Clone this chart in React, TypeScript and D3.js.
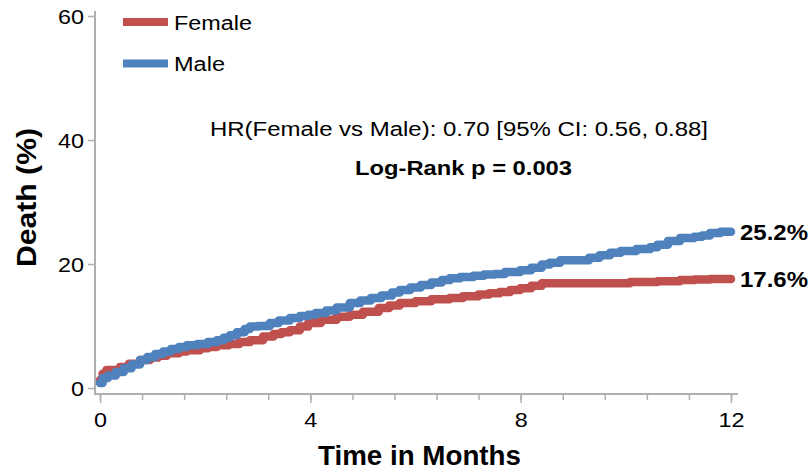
import React, { useEffect, useRef } from "react";
import * as d3 from "d3";

// Kaplan–Meier cumulative incidence of death (%) by sex, step curves
const maleTimes = [0, 0.05, 0.15, 0.3, 0.45, 0.6, 0.76, 0.9, 1.05, 1.2, 1.35, 1.5, 1.65, 1.85, 2.05, 2.22, 2.35, 2.47, 2.6, 2.75, 2.85, 3.0, 3.23, 3.4, 3.61, 3.8, 3.96, 4.1, 4.3, 4.5, 4.75, 4.95, 5.15, 5.35, 5.55, 5.7, 5.9, 6.1, 6.3, 6.5, 6.65, 6.85, 7.1, 7.3, 7.5, 7.7, 7.99, 8.2, 8.4, 8.55, 8.75, 9.3, 9.5, 9.7, 9.9, 10.2, 10.46, 10.6, 10.8, 11.03, 11.3, 11.45, 11.6, 11.8, 12.0];
const maleDeath = [0.8, 1.6, 2.0, 2.6, 3.2, 3.8, 4.5, 5.0, 5.5, 5.9, 6.3, 6.6, 6.9, 7.1, 7.4, 7.7, 8.1, 8.5, 9.0, 9.5, 9.9, 10.0, 10.5, 10.9, 11.3, 11.6, 11.8, 12.1, 12.5, 13.0, 13.7, 14.1, 14.5, 14.9, 15.4, 15.8, 16.2, 16.6, 17.0, 17.4, 17.7, 17.9, 18.1, 18.3, 18.4, 18.7, 19.0, 19.4, 19.9, 20.2, 20.6, 21.0, 21.4, 21.8, 22.1, 22.4, 22.7, 23.1, 23.7, 24.2, 24.4, 24.6, 25.0, 25.2, 25.2];

const femaleTimes = [0, 0.05, 0.12, 0.38, 0.55, 0.76, 0.95, 1.1, 1.27, 1.5, 1.65, 1.9, 2.05, 2.22, 2.45, 2.65, 2.85, 3.1, 3.3, 3.45, 3.61, 3.8, 3.96, 4.2, 4.5, 4.75, 5.0, 5.3, 5.5, 5.7, 6.0, 6.3, 6.65, 6.9, 7.2, 7.4, 7.6, 7.8, 7.99, 8.2, 8.4, 9.0, 9.5, 10.08, 10.6, 11.03, 11.3, 11.6, 12.0];
const femaleDeath = [1.3, 2.3, 2.9, 3.4, 3.9, 4.5, 4.9, 5.2, 5.6, 5.9, 6.1, 6.4, 6.6, 6.9, 7.1, 7.4, 7.7, 8.3, 8.7, 9.0, 9.3, 9.9, 10.5, 11.0, 11.5, 11.8, 12.3, 12.9, 13.3, 13.7, 14.0, 14.3, 14.5, 14.8, 15.1, 15.3, 15.5, 15.8, 16.1, 16.5, 16.9, 16.9, 16.9, 17.1, 17.2, 17.4, 17.5, 17.6, 17.6];

const seriesNames = ["Female", "Male"];
const seriesColors = ["#C0504D", "#4F81BD"];
const finalLabels = ["17.6%", "25.2%"];
const finalValues = [17.6, 25.2];

const xMajorTicks = [0, 4, 8, 12];
const xMinorTicks = [0, 0.8, 1.6, 2.4, 3.2, 4, 4.8, 5.6, 6.4, 7.2, 8, 8.8, 9.6, 10.4, 11.2, 12];
const yTicks = [0, 20, 40, 60];

const hrText = "HR(Female vs Male): 0.70 [95% CI: 0.56, 0.88]";
const pText = "Log-Rank p = 0.003";
const xTitle = "Time in Months";
const yTitle = "Death (%)";

const W = 811;
const H = 470;
const FONT = "'Liberation Sans', Arial, Helvetica, sans-serif";
const AXIS = "#AFAFAF";
const DIGIT_W = 13;

export default function App() {
  const axRef = useRef<SVGGElement | null>(null);

  const x = d3.scaleLinear().domain([0, 12]).range([100, 731]);
  const y = d3.scaleLinear().domain([0, 60]).range([388, 16]);

  const line = d3
    .line<[number, number]>()
    .x((d) => x(d[0]))
    .y((d) => y(d[1]))
    .curve(d3.curveStepAfter);

  const female: [number, number][] = femaleTimes.map((t, i) => [t, femaleDeath[i]]);
  const male: [number, number][] = maleTimes.map((t, i) => [t, maleDeath[i]]);

  useEffect(() => {
    const g = d3.select(axRef.current);
    g.selectAll("*").remove();

    const styleLabels = (sel: any) =>
      sel
        .selectAll(".tick text")
        .attr("font-family", FONT)
        .attr("font-size", 21)
        .attr("fill", "#000")
        .attr("lengthAdjust", "spacingAndGlyphs")
        .attr("textLength", function (this: SVGTextElement) {
          return (this.textContent || "").length * DIGIT_W;
        });

    // y axis (offset left of the plot)
    const yAxis = g
      .append("g")
      .attr("transform", "translate(95,0)")
      .call(d3.axisLeft(y).tickValues(yTicks).tickSize(7).tickPadding(4).tickFormat(d3.format("d")));
    yAxis.select(".domain").remove();
    yAxis.append("line").attr("x1", 0).attr("x2", 0).attr("y1", 11).attr("y2", 395).attr("stroke", AXIS).attr("stroke-width", 2);
    yAxis.selectAll(".tick line").attr("stroke", AXIS).attr("stroke-width", 1.5);
    styleLabels(yAxis).attr("dy", "0.36em");

    // x axis (offset below the plot)
    const xAxisY = 394;
    const xMinor = g
      .append("g")
      .attr("transform", `translate(0,${xAxisY})`)
      .call(d3.axisBottom(x).tickValues(xMinorTicks).tickSize(6).tickFormat(() => ""));
    xMinor.select(".domain").remove();
    xMinor.selectAll(".tick line").attr("stroke", AXIS).attr("stroke-width", 1.5);

    const xAxis = g
      .append("g")
      .attr("transform", `translate(0,${xAxisY})`)
      .call(d3.axisBottom(x).tickValues(xMajorTicks).tickSize(9).tickPadding(5).tickFormat(d3.format("d")));
    xAxis.select(".domain").remove();
    xAxis.append("line").attr("x1", 95).attr("x2", 738).attr("y1", 0).attr("y2", 0).attr("stroke", AXIS).attr("stroke-width", 2);
    xAxis.selectAll(".tick line").attr("stroke", AXIS).attr("stroke-width", 1.5);
    styleLabels(xAxis).attr("dy", "0.92em");
  }, []);

  return (
    <svg width={W} height={H} style={{ display: "block", position: "absolute", left: 0, top: 0 }}>
      <rect width={W} height={H} fill="#fff" />
      <g ref={axRef} />

      {/* curves */}
      <path d={line(female) ?? ""} fill="none" stroke={seriesColors[0]} strokeWidth={8.5} strokeLinejoin="round" strokeLinecap="round" />
      <path d={line(male) ?? ""} fill="none" stroke={seriesColors[1]} strokeWidth={8.5} strokeLinejoin="round" strokeLinecap="round" />

      {/* final values */}
      {finalLabels.map((lbl, i) => (
        <text
          key={lbl}
          x={740}
          y={y(finalValues[i]) + 8}
          fontFamily={FONT}
          fontSize={22}
          fontWeight="bold"
          textLength={68}
          lengthAdjust="spacingAndGlyphs"
        >
          {lbl}
        </text>
      ))}

      {/* legend */}
      {seriesNames.map((name, i) => (
        <g key={name}>
          <line x1={123} x2={168} y1={22 + i * 41.5} y2={22 + i * 41.5} stroke={seriesColors[i]} strokeWidth={8} />
          <text
            x={174}
            y={29.5 + i * 41.5}
            fontFamily={FONT}
            fontSize={20}
            textLength={i === 0 ? 78 : 51}
            lengthAdjust="spacingAndGlyphs"
          >
            {name}
          </text>
        </g>
      ))}

      {/* statistics */}
      <text x={210} y={136} fontFamily={FONT} fontSize={20} textLength={498} lengthAdjust="spacingAndGlyphs">
        {hrText}
      </text>
      <text x={355} y={175} fontFamily={FONT} fontSize={21} fontWeight="bold" textLength={217} lengthAdjust="spacingAndGlyphs">
        {pText}
      </text>

      {/* axis titles */}
      <text
        x={318}
        y={464.5}
        fontFamily={FONT}
        fontSize={27}
        fontWeight="bold"
        textLength={203}
        lengthAdjust="spacingAndGlyphs"
      >
        {xTitle}
      </text>
      <text
        transform="translate(36,197.5) rotate(-90)"
        textAnchor="middle"
        fontFamily={FONT}
        fontSize={28}
        fontWeight="bold"
        textLength={139}
        lengthAdjust="spacingAndGlyphs"
      >
        {yTitle}
      </text>
    </svg>
  );
}
